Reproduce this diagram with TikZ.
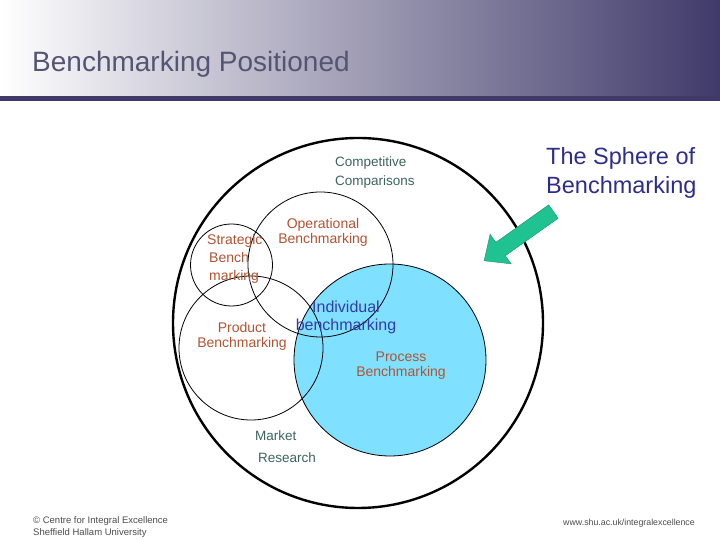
\documentclass[tikz,border=0pt]{standalone}
\usepackage{fontspec}
\setmainfont{Liberation Sans}
\usetikzlibrary{shapes.geometric,shapes.arrows,positioning}
\definecolor{fejlila}{RGB}{64,58,106}
\definecolor{cimszin}{RGB}{85,85,115}
\definecolor{barna}{RGB}{176,84,50}
\definecolor{zoldes}{RGB}{60,100,90}
\definecolor{kek}{RGB}{50,60,170}
\definecolor{sotetkek}{RGB}{45,45,140}
\definecolor{egkek}{RGB}{128,224,255}
\definecolor{nyilzold}{RGB}{30,195,145}
\tikzset{
  kor/.style={circle,draw,inner sep=0pt,line width=0.8pt},
  nagykor/.style={circle,draw,inner sep=0pt,line width=2.4pt},
  felirat/.style={inner sep=0pt,align=center,text=barna,font=\fontsize{14}{15}\selectfont},
  halvany/.style={inner sep=0pt,align=left,text=zoldes,font=\fontsize{13.5}{19}\selectfont},
  labjegy/.style={inner sep=0pt,align=left,text=black!70,font=\fontsize{9.5}{12}\selectfont},
}
\begin{document}
\begin{tikzpicture}[x=1pt,y=1pt]
  \useasboundingbox (0,0) rectangle (720,540);
  % fejlec
  \shade[left color=white,middle color=fejlila!40,right color=fejlila] (0,443) rectangle (720,540);
  \fill[fejlila] (0,439) rectangle (720,444);
  \node[anchor=west,inner sep=0pt,text=cimszin,font=\fontsize{28}{30}\selectfont] (cim) at (32,476) {Benchmarking Positioned};
  % korok
  \node[nagykor,minimum size=370pt] (gomb) at (358,217) {};
  \node[kor,fill=egkek,minimum size=192pt] (folyamat) at (390,180) {};
  \node[kor,minimum size=145pt] (mukodes) at (320.5,275.5) {};
  \node[kor,minimum size=82pt] (strat) at (231.5,275) {};
  \node[kor,minimum size=144pt] (termek) at (251,192) {};
  % feliratok
  \node[halvany,anchor=west] (verseny) at (335,367.5) {Competitive\\Comparisons};
  \node[felirat] (mukodesf) at (323,307.5) {Operational\\Benchmarking};
  \node[felirat,align=left,anchor=west,font=\fontsize{14}{18}\selectfont] (stratf) at (207,281.5) {Strategic\\\hspace{2pt}Bench\\\hspace{2pt}marking};
  \node[felirat,text=kek,font=\fontsize{16}{18}\selectfont] (egyeni) at (346,223) {Individual\\benchmarking};
  \node[felirat] (termekf) at (242,203.5) {Product\\Benchmarking};
  \node[felirat] (folyamatf) at (401,174.5) {Process\\Benchmarking};
  \node[halvany,anchor=west,font=\fontsize{13.5}{22}\selectfont] (piac) at (255,93) {Market\\\hspace{3pt}Research};
  \node[inner sep=0pt,align=left,anchor=west,text=sotetkek,font=\fontsize{23.5}{29}\selectfont] (szfera) at (546,367.5) {The Sphere of\\Benchmarking};
  % nyil
  \node[single arrow,fill=nyilzold,draw=nyilzold!75!black,inner sep=8pt,minimum height=85pt,
        single arrow head extend=10pt,single arrow tip angle=84,rotate=215.4] (nyil) at (522.5,306.5) {};
  % lablec
  \node[labjegy,anchor=west] (kozpont) at (33,13) {\textcopyright{} Centre for Integral Excellence\\Sheffield Hallam University};
  \node[labjegy,anchor=east,font=\fontsize{8.8}{12}\selectfont] (honlap) at (695,17) {www.shu.ac.uk/integralexcellence};
\end{tikzpicture}
\end{document}
